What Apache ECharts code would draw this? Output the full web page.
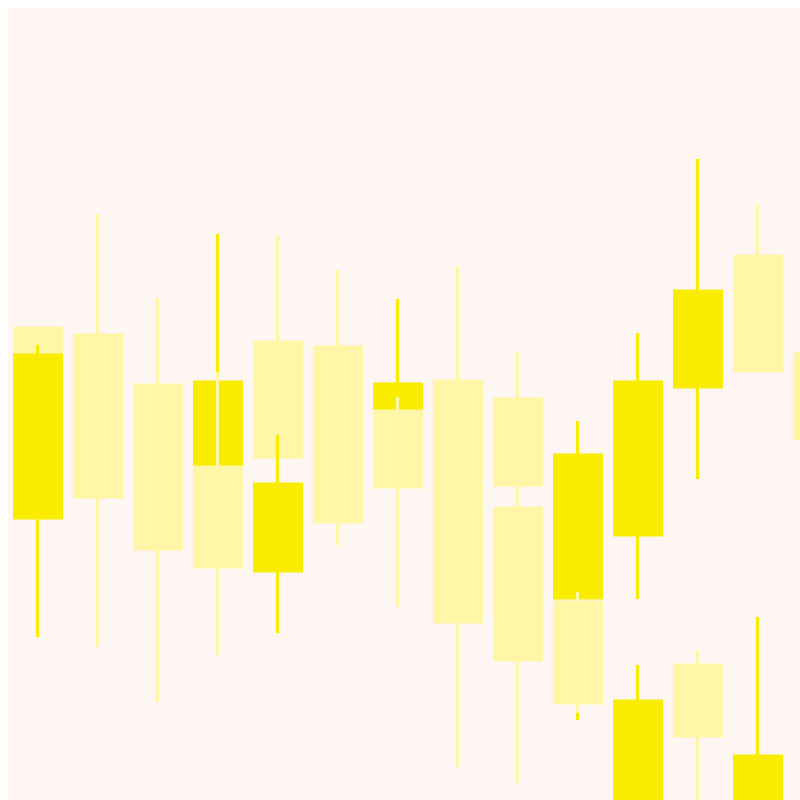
<!DOCTYPE html>
<html>
<head>
<meta charset="utf-8">
<script src="https://cdn.jsdelivr.net/npm/echarts@6/dist/echarts.min.js"></script>
<style>
  html, body { margin: 0; padding: 0; background: #ffffff; overflow: hidden; width: 800px; height: 800px; }
  #chart { position: absolute; left: 8px; top: 8px; width: 840px; height: 800px; }
</style>
</head>
<body>
<div id="chart"></div>
<script>
// categories (no labels visible in the reference)
const categories = ['C1','C2','C3','C4','C5','C6','C7','C8','C9','C10','C11','C12','C13','C14'];

// upper series: [open, close, lowest, highest]; '-' = no candle
const upperSeries = [
  [480, 453, 453, 480],
  [473, 311, 161, 594],
  [423, 259, 106, 510],
  [341, 426, 341, 574],
  [466, 351, 351, 572],
  [461, 286, 263, 538],
  [397, 424, 397, 509],
  [427, 186, 41, 542],
  [409, 323, 323, 456],
  [210, 353, 88, 387],
  [273, 426, 209, 475],
  [421, 517, 329, 649],
  [552, 437, 437, 603],
  [454, 369, 340, 490]
];

// lower series (drawn on top)
const lowerSeries = [
  [290, 453, 171, 463],
  '-',
  '-',
  [341, 241, 153, 436],
  [237, 324, 175, 373],
  '-',
  [397, 321, 201, 411],
  '-',
  [300, 148, 25, 323],
  [206, 105, 95, 216],
  [0, 107, 0, 143],
  [143, 72, 0, 158],
  [0, 52, 0, 191],
  '-'
];

const brightColor = '#f9ec00';
const paleColor = '#fff6a8';

const chart = echarts.init(document.getElementById('chart'));

function candleSeries(name, data) {
  return {
    name: name,
    type: 'candlestick',
    data: data,
    barWidth: 47,
    itemStyle: {
      color: brightColor,
      color0: paleColor,
      borderColor: brightColor,
      borderColor0: paleColor,
      borderWidth: 3
    },
    emphasis: { disabled: true }
  };
}

chart.setOption({
  animation: false,
  backgroundColor: '#fdf6f3',
  grid: { left: 0, right: 0, top: 0, bottom: 0 },
  xAxis: {
    type: 'category',
    data: categories,
    boundaryGap: true,
    show: false
  },
  yAxis: {
    type: 'value',
    min: 0,
    max: 800,
    show: false,
    splitLine: { show: false }
  },
  series: [
    candleSeries('Upper', upperSeries),
    candleSeries('Lower', lowerSeries)
  ]
});
</script>
</body>
</html>
